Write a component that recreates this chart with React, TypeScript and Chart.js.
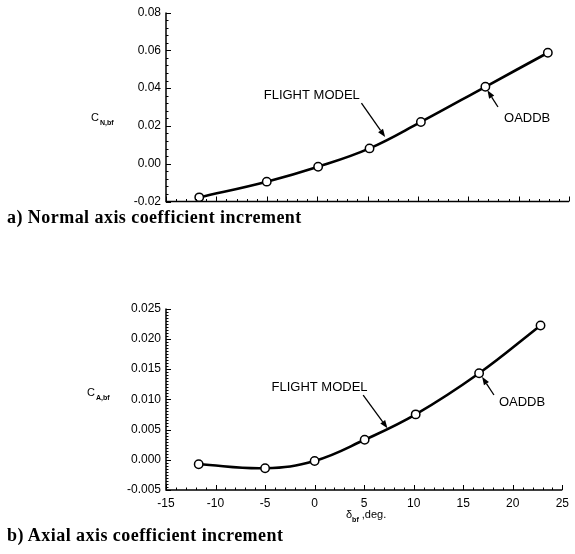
import React, { useEffect, useRef } from "react";
import { Chart, registerables } from "chart.js";

Chart.register(...registerables);

// ---- data ----
const deflectionDeg = [-11.7, -5, 0.1, 5.2, 10.3, 16.7, 22.9];
const normalCoef = [-0.0178, -0.0095, -0.0016, 0.0081, 0.0221, 0.0407, 0.0587];
const axialDeflectionDeg = [-11.7, -5, 0.0, 5.05, 10.2, 16.6, 22.8];
const axialCoef = [-0.00075, -0.0014, -0.0002, 0.0033, 0.0075, 0.0143, 0.0222];

const xTickMin = -15;
const xTickMax = 25;
const normalYMin = -0.02;
const normalYMax = 0.08;
const axialYMin = -0.005;
const axialYMax = 0.025;

const captionA = "a) Normal axis coefficient increment";
const captionB = "b) Axial axis coefficient increment";

const SANS = "'Liberation Sans', Arial, sans-serif";

type Ann = {
  texts: { x: number; y: number; text: string }[];
  arrows: { x1: number; y1: number; x2: number; y2: number }[];
  yTitle: { main: string; sub: string; px: number; py: number };
  xTitle?: { main: string; sub: string; rest: string; px: number; py: number };
  xMinor: number;
  xMajor: number;
  yMinor: number;
  yMajor: number;
};

const decoPlugin = {
  id: "deco",
  afterDraw(chart: any, _args: any, opts: Ann) {
    const ctx = chart.ctx as CanvasRenderingContext2D;
    const xs = chart.scales.x;
    const ys = chart.scales.y;
    const { left, right, top, bottom } = chart.chartArea;
    ctx.save();
    ctx.strokeStyle = "#000";
    ctx.fillStyle = "#000";
    // axis lines
    ctx.lineWidth = 1.5;
    ctx.beginPath();
    ctx.moveTo(left, top);
    ctx.lineTo(left, bottom);
    ctx.lineTo(right, bottom);
    ctx.stroke();
    // ticks (inward)
    ctx.lineWidth = 1;
    const eps = 1e-9;
    const nx = Math.round((xs.max - xs.min) / opts.xMinor);
    for (let i = 0; i <= nx; i++) {
      const v = xs.min + i * opts.xMinor;
      const isMajor = Math.abs(v / opts.xMajor - Math.round(v / opts.xMajor)) < 1e-6;
      const p = Math.round(xs.getPixelForValue(v)) + 0.5;
      const len = isMajor ? 5 : 2.5;
      ctx.beginPath();
      ctx.moveTo(p, bottom);
      ctx.lineTo(p, bottom - len);
      ctx.stroke();
    }
    const ny = Math.round((ys.max - ys.min) / opts.yMinor + eps);
    for (let i = 0; i <= ny; i++) {
      const v = ys.min + i * opts.yMinor;
      const r = v / opts.yMajor;
      const isMajor = Math.abs(r - Math.round(r)) < 1e-4;
      const p = Math.round(ys.getPixelForValue(v)) + 0.5;
      const len = isMajor ? 5 : 2.5;
      ctx.beginPath();
      ctx.moveTo(left, p);
      ctx.lineTo(left + len, p);
      ctx.stroke();
    }
    // annotation texts
    ctx.font = `13px ${SANS}`;
    ctx.textBaseline = "middle";
    ctx.textAlign = "left";
    for (const t of opts.texts) {
      ctx.fillText(t.text, xs.getPixelForValue(t.x), ys.getPixelForValue(t.y));
    }
    // arrows
    ctx.lineWidth = 1.3;
    for (const a of opts.arrows) {
      const x1 = xs.getPixelForValue(a.x1);
      const y1 = ys.getPixelForValue(a.y1);
      const x2 = xs.getPixelForValue(a.x2);
      const y2 = ys.getPixelForValue(a.y2);
      const ang = Math.atan2(y2 - y1, x2 - x1);
      const hl = 8;
      const hw = 3;
      const bx = x2 - hl * Math.cos(ang);
      const by = y2 - hl * Math.sin(ang);
      ctx.beginPath();
      ctx.moveTo(x1, y1);
      ctx.lineTo(bx, by);
      ctx.stroke();
      ctx.beginPath();
      ctx.moveTo(x2, y2);
      ctx.lineTo(bx + hw * Math.sin(ang), by - hw * Math.cos(ang));
      ctx.lineTo(bx - hw * Math.sin(ang), by + hw * Math.cos(ang));
      ctx.closePath();
      ctx.fill();
    }
    // y title
    const yt = opts.yTitle;
    ctx.textBaseline = "alphabetic";
    ctx.font = `11px ${SANS}`;
    ctx.fillText(yt.main, yt.px, yt.py);
    const cw = ctx.measureText(yt.main).width;
    ctx.font = `bold 7px ${SANS}`;
    ctx.fillText(yt.sub, yt.px + cw + 1, yt.py + 4);
    // x title
    if (opts.xTitle) {
      const xt = opts.xTitle;
      ctx.font = `11px ${SANS}`;
      ctx.fillText(xt.main, xt.px, xt.py);
      let w = ctx.measureText(xt.main).width;
      ctx.font = `bold 7px ${SANS}`;
      ctx.fillText(xt.sub, xt.px + w, xt.py + 4);
      w += ctx.measureText(xt.sub).width + 3;
      ctx.font = `11px ${SANS}`;
      ctx.fillText(xt.rest, xt.px + w, xt.py);
    }
    ctx.restore();
  },
};

function makeConfig(
  xsData: number[],
  ysData: number[],
  yMin: number,
  yMax: number,
  yStep: number,
  yDigits: number,
  showX: boolean,
  yAxisWidth: number,
  xAxisHeight: number,
  padTop: number,
  ann: Ann
): any {
  const pts = xsData.map((x, i) => ({ x, y: ysData[i] }));
  return {
    type: "line",
    data: {
      datasets: [
        {
          label: "OADDB",
          data: pts,
          showLine: false,
          pointRadius: 4.2,
          pointBackgroundColor: "#fff",
          pointBorderColor: "#000",
          pointBorderWidth: 1.5,
        },
        {
          label: "FLIGHT MODEL",
          data: pts,
          borderColor: "#000",
          borderWidth: 2.6,
          tension: 0.4,
          pointRadius: 0,
          fill: false,
        },
      ],
    },
    options: {
      animation: false,
      responsive: false,
      layout: { padding: { left: 0, right: 6, top: padTop, bottom: 0 } },
      plugins: { legend: { display: false }, tooltip: { enabled: false }, deco: ann },
      scales: {
        x: {
          type: "linear",
          min: xTickMin,
          max: xTickMax,
          grid: { display: false, drawTicks: false },
          border: { display: false },
          ticks: {
            display: showX,
            stepSize: 5,
            color: "#000",
            padding: 6,
            font: { family: SANS, size: 12 },
            callback: (v: number) => `${v}`,
          },
          afterFit: (s: any) => {
            s.height = xAxisHeight;
          },
        },
        y: {
          min: yMin,
          max: yMax,
          grid: { display: false, drawTicks: false },
          border: { display: false },
          ticks: {
            stepSize: yStep,
            color: "#000",
            padding: 5,
            font: { family: SANS, size: 12 },
            callback: (v: number) => Number(v).toFixed(yDigits),
          },
          afterFit: (s: any) => {
            s.width = yAxisWidth;
          },
        },
      },
    },
    plugins: [decoPlugin],
  };
}

const annA: Ann = {
  texts: [
    { x: -5.3, y: 0.0363, text: "FLIGHT MODEL" },
    { x: 18.55, y: 0.0242, text: "OADDB" },
  ],
  arrows: [
    { x1: 4.4, y1: 0.0321, x2: 6.75, y2: 0.0141 },
    { x1: 17.95, y1: 0.03, x2: 16.9, y2: 0.0388 },
  ],
  yTitle: { main: "C", sub: "N,bf", px: 91, py: 121 },
  xMinor: 1,
  xMajor: 5,
  yMinor: 0.004,
  yMajor: 0.02,
};

const annB: Ann = {
  texts: [
    { x: -4.35, y: 0.0119, text: "FLIGHT MODEL" },
    { x: 18.6, y: 0.0094, text: "OADDB" },
  ],
  arrows: [
    { x1: 4.9, y1: 0.0107, x2: 7.35, y2: 0.0052 },
    { x1: 18.1, y1: 0.0107, x2: 16.9, y2: 0.0137 },
  ],
  yTitle: { main: "C", sub: "A,bf", px: 87, py: 116 },
  xTitle: { main: "δ", sub: "bf", rest: ",deg.", px: 346, py: 238 },
  xMinor: 1,
  xMajor: 5,
  yMinor: 0.0005,
  yMajor: 0.005,
};

function ChartCanvas(props: { top: number; height: number; config: () => any }) {
  const ref = useRef<HTMLCanvasElement | null>(null);
  useEffect(() => {
    if (!ref.current) return;
    const c = new Chart(ref.current, props.config());
    return () => c.destroy();
  }, []);
  return (
    <canvas
      ref={ref}
      width={575}
      height={props.height}
      style={{ position: "absolute", left: 0, top: props.top, width: 575, height: props.height }}
    />
  );
}

const captionStyle: React.CSSProperties = {
  position: "absolute",
  left: 7,
  fontFamily: "'Liberation Serif', 'Times New Roman', serif",
  fontWeight: "bold",
  fontSize: 18,
  letterSpacing: 0.45,
  lineHeight: "20px",
  whiteSpace: "nowrap",
  color: "#000",
};

export default function App() {
  return (
    <div
      style={{
        position: "fixed",
        left: 0,
        top: 0,
        width: 575,
        height: 554,
        background: "#fff",
        overflow: "hidden",
      }}
    >
      <ChartCanvas
        top={0}
        height={230}
        config={() =>
          makeConfig(deflectionDeg, normalCoef, normalYMin, normalYMax, 0.02, 2, false, 166, 28.5, 12.5, annA)
        }
      />
      <div style={{ ...captionStyle, top: 207 }}>{captionA}</div>
      <ChartCanvas
        top={280}
        height={274}
        config={() =>
          makeConfig(axialDeflectionDeg, axialCoef, axialYMin, axialYMax, 0.005, 3, true, 166, 64, 28.5, annB)
        }
      />
      <div style={{ ...captionStyle, top: 525 }}>{captionB}</div>
    </div>
  );
}
